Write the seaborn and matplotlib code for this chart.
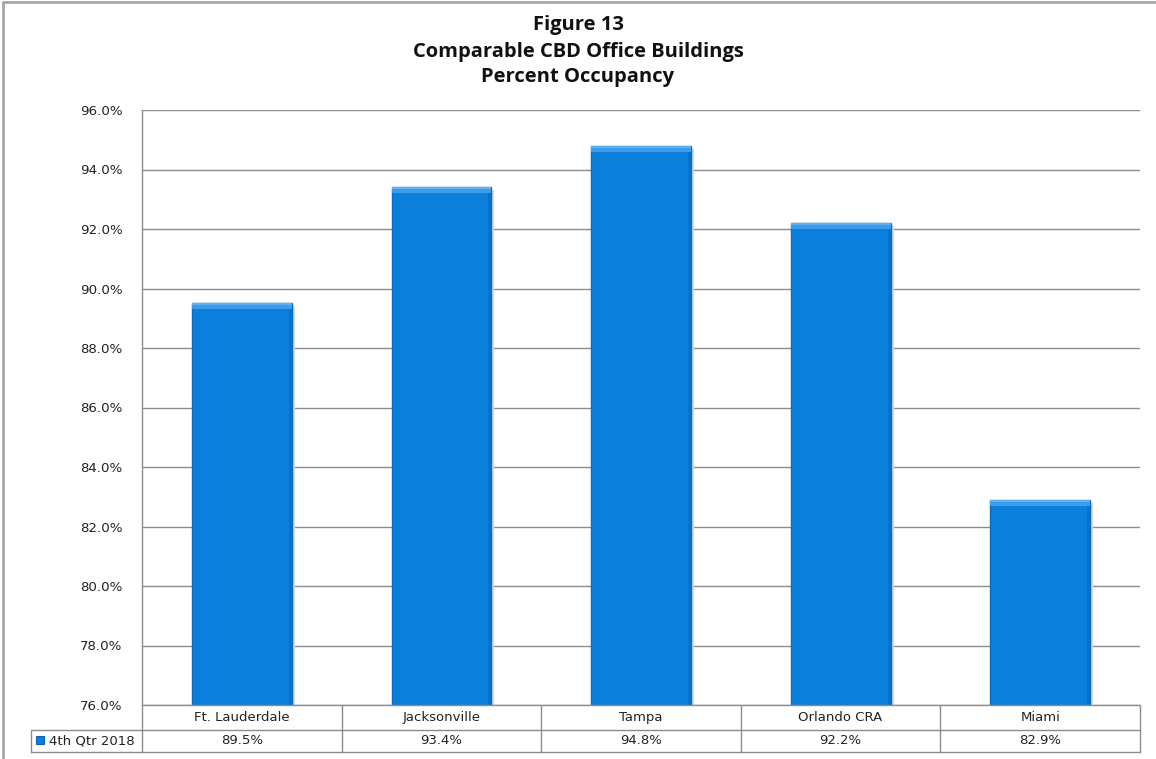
import matplotlib
matplotlib.use("Agg")
import matplotlib.pyplot as plt
import seaborn as sns
import pandas as pd
from matplotlib.patches import Rectangle
from matplotlib.lines import Line2D
from matplotlib.ticker import FuncFormatter

categories = ["Ft. Lauderdale", "Jacksonville", "Tampa", "Orlando CRA", "Miami"]
values = [89.5, 93.4, 94.8, 92.2, 82.9]
value_labels = ["89.5%", "93.4%", "94.8%", "92.2%", "82.9%"]
series_name = "4th Qtr 2018"
title_lines = ["Figure 13", "Comparable CBD Office Buildings", "Percent Occupancy"]
yticks = [76, 78, 80, 82, 84, 86, 88, 90, 92, 94, 96]

sns.set_theme(style="white")
plt.rcParams['font.family'] = ['DejaVu Sans']

W, H = 1156, 759
fig = plt.figure(figsize=(W / 100, H / 100), dpi=100)
L, R, T, B = 142, 1140, 110, 705
ax = fig.add_axes([L / W, 1 - B / H, (R - L) / W, (B - T) / H])

df = pd.DataFrame({"cat": categories, "val": values})
bar_color = "#0A7FDC"
sns.barplot(data=df, x="cat", y="val", color=bar_color, width=0.5, ax=ax,
            saturation=1, edgecolor="#0A6CC0", linewidth=1.0, zorder=3)

ax.set_ylim(76, 96)
ax.set_xlim(-0.5, len(categories) - 0.5)

# bevel effect derived from each bar's geometry
ph = B - T
pw = R - L
ypx = (96 - 76) / ph          # data units per pixel (y)
xpx = (len(categories)) / pw  # data units per pixel (x)
for p in list(ax.patches):
    x0, y0 = p.get_x(), p.get_y()
    w, h = p.get_width(), p.get_height()
    top = y0 + h
    # drop shadow on right
    ax.add_patch(Rectangle((x0 + w, y0), 3 * xpx, h - 3 * ypx, facecolor="#d9d9d9",
                           edgecolor="none", zorder=2))
    # top highlight
    ax.add_patch(Rectangle((x0, top - 6 * ypx), w, 6 * ypx, facecolor="#3A9CEB",
                           edgecolor="none", zorder=4))
    ax.add_patch(Rectangle((x0, top - 2 * ypx), w, 2 * ypx, facecolor="#5FB2F2",
                           edgecolor="none", zorder=4))
    # right darker edge
    ax.add_patch(Rectangle((x0 + w - 3 * xpx, y0), 3 * xpx, h - 6 * ypx, facecolor="#0872C8",
                           edgecolor="none", zorder=4))

ax.set_yticks(yticks)
ax.yaxis.set_major_formatter(FuncFormatter(lambda v, _: f"{v:.1f}%"))
ax.tick_params(axis="y", labelsize=9.6, labelcolor="#222222", length=0, pad=14)
ax.set_xticks([])
ax.set_xlabel("")
ax.set_ylabel("")
ax.grid(axis="y", color="#8c8c8c", linewidth=1, zorder=0)
for s in ["top", "right", "bottom"]:
    ax.spines[s].set_visible(False)
ax.spines["left"].set_color("#8c8c8c")
ax.spines["left"].set_linewidth(1)

# data table below the axes
r1 = -(25 / ph)
r2 = -(47 / ph)
xl = (31 - L) / pw
line_kw = dict(color="#8c8c8c", linewidth=1, clip_on=False, zorder=5)
xt = ax.get_xaxis_transform()
ax.plot([0, 1], [0, 0], transform=ax.transAxes, **line_kw)
ax.plot([xl, 1], [r1, r1], transform=ax.transAxes, **line_kw)
ax.plot([xl, 1], [r2, r2], transform=ax.transAxes, **line_kw)
ax.plot([xl, xl], [r1, r2], transform=ax.transAxes, **line_kw)
ax.plot([0, 0], [0, r2], transform=ax.transAxes, **line_kw)
for i in range(len(categories)):
    xb = i + 0.5
    ax.plot([xb, xb], [0, r2], transform=xt, **line_kw)
for i, (c, v) in enumerate(zip(categories, value_labels)):
    ax.text(i, r1 / 2, c, transform=xt, ha="center", va="center", fontsize=9.5, color="#222222")
    ax.text(i, (r1 + r2) / 2, v, transform=xt, ha="center", va="center", fontsize=9.5, color="#222222")
# legend key
kx = (36 - L) / pw
kw = 8 / pw
kh = 8 / ph
ax.add_patch(Rectangle((kx, (r1 + r2) / 2 - kh / 2 + 0.001), kw, kh, transform=ax.transAxes,
                       facecolor=bar_color, edgecolor="#0765B5", linewidth=0.8, clip_on=False))
ax.text((49 - L) / pw, (r1 + r2) / 2, series_name, transform=ax.transAxes, ha="left", va="center",
        fontsize=9.5, color="#222222")

# title
ys = [25, 52, 77]
for t, y in zip(title_lines, ys):
    fig.text(578 / W, 1 - y / H, t, ha="center", va="center", fontsize=14.5,
             fontweight="bold", family=["Open Sans", "DejaVu Sans"], color="#111111")

# figure border (top and left only)
fig.lines.append(Line2D([3 / W, 1], [1 - 1.5 / H, 1 - 1.5 / H], transform=fig.transFigure,
                        color="#a8a8a8", linewidth=2))
fig.lines.append(Line2D([3 / W, 3 / W], [0, 1 - 1.5 / H], transform=fig.transFigure,
                        color="#a8a8a8", linewidth=2))

fig.savefig("out.png", dpi=100)
